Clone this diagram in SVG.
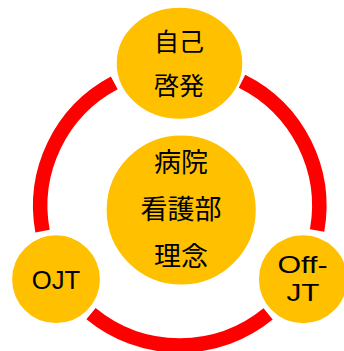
<svg xmlns="http://www.w3.org/2000/svg" width="344" height="351" viewBox="0 0 344 351">
  <style>
    .ring { fill: none; stroke: #FF0000; stroke-width: 14.5; stroke-linecap: butt; }
    .node { fill: #FFC000; stroke: #FFFFFF; stroke-width: 1.5; }
    .jp { font-family: "Noto Sans CJK JP", "Noto Sans", sans-serif; fill: #000000; text-anchor: middle; }
    .lat2 { font-family: "Liberation Sans", Arial, sans-serif; fill: #000000; text-anchor: middle; }
  </style>
  <rect width="344" height="351" fill="#FFFFFF"/>
  <g id="connectors">
    <path class="ring" d="M 242.0 81.16 A 139.5 139.5 0 0 1 317.09 230.47"/>
    <path class="ring" d="M 268.11 313.95 A 139.5 139.5 0 0 1 91.01 313.64"/>
    <path class="ring" d="M 42.54 231.18 A 139.5 139.5 0 0 1 114.26 82.83"/>
  </g>
  <g id="node-jiko">
    <ellipse class="node" cx="179.5" cy="63.3" rx="63.5" ry="56.2"/>
    <text class="jp" x="179" y="51.2" font-size="25">自己<tspan x="179" dy="43.6">啓発</tspan></text>
  </g>
  <g id="node-rinen">
    <circle class="node" cx="181.2" cy="210" r="75.3"/>
    <text class="jp" x="181" y="172.3" font-size="27">病院<tspan x="181" dy="46.5">看護部</tspan><tspan x="181" dy="46.8">理念</tspan></text>
  </g>
  <g id="node-ojt">
    <circle class="node" cx="56" cy="279.2" r="44.6"/>
    <text class="lat2" x="56" y="289" font-size="26.5" textLength="48.5" lengthAdjust="spacingAndGlyphs">OJT</text>
  </g>
  <g id="node-offjt">
    <circle class="node" cx="303" cy="279.2" r="44.8"/>
    <text class="lat2" x="302.5" y="273" font-size="24" textLength="50" lengthAdjust="spacingAndGlyphs">Off-</text>
    <text class="lat2" x="303" y="301" font-size="24" textLength="33" lengthAdjust="spacingAndGlyphs">JT</text>
  </g>
</svg>
